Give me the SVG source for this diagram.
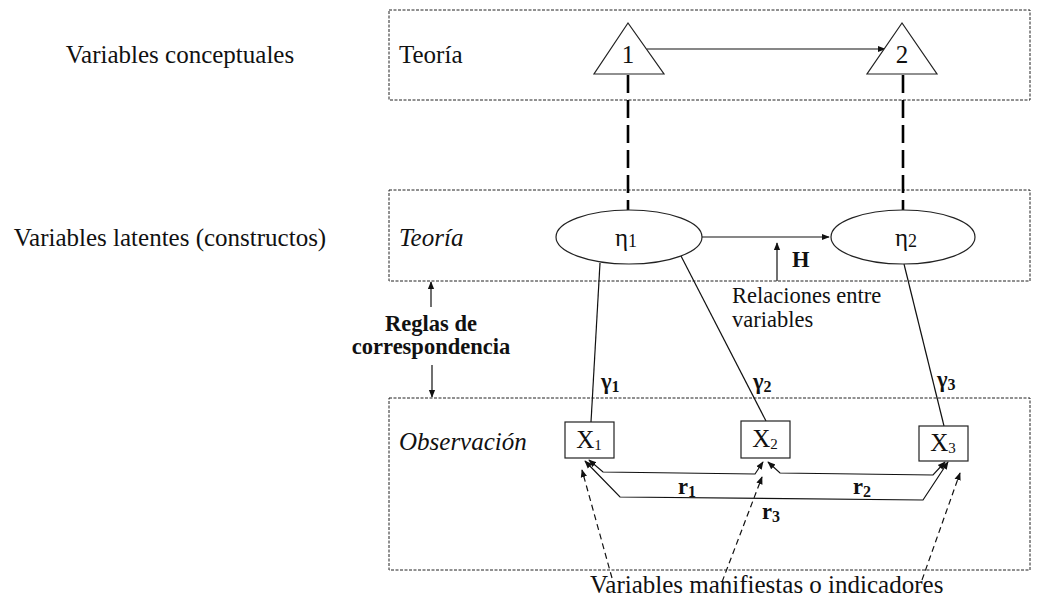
<svg xmlns="http://www.w3.org/2000/svg" width="1037" height="601" viewBox="0 0 1037 601">
  <style>
    text { font-family: "Liberation Serif", "Times New Roman", serif; fill: #111; }
    .lbl { font-size: 25px; }
    .it { font-style: italic; }
    .bd { font-weight: bold; }
    .sm { font-size: 22.5px; }
    .panel { fill: none; stroke: #222; stroke-width: 1; stroke-dasharray: 3 1.5; }
    .shape { fill: #fff; stroke: #222; stroke-width: 1.2; }
    .thin { fill: none; stroke: #111; stroke-width: 1.2; }
    .dual { fill: none; stroke: #111; stroke-width: 1.2; marker-start: url(#tip); marker-end: url(#tip); }
    .bond { fill: none; stroke: #000; stroke-width: 2.6; stroke-dasharray: 18 7; }
    .hint { fill: none; stroke: #111; stroke-width: 1.2; stroke-dasharray: 6 4; marker-end: url(#tip); }
  </style>
  <defs>
    <marker id="tip" viewBox="0 0 10 10" refX="9" refY="5" markerWidth="8" markerHeight="8" markerUnits="userSpaceOnUse" orient="auto-start-reverse">
      <path d="M0,1 L10,5 L0,9 Z" fill="#111"/>
    </marker>
  </defs>

  <!-- row captions -->
  <g id="captions">
    <text class="lbl" x="180" y="63" text-anchor="middle">Variables conceptuales</text>
    <text class="lbl" x="170" y="246" text-anchor="middle">Variables latentes (constructos)</text>
    <text class="sm bd" x="431" y="331" text-anchor="middle">Reglas de</text>
    <text class="sm bd" x="431" y="354" text-anchor="middle">correspondencia</text>
  </g>

  <!-- dashed panels -->
  <g id="panel-theory">
    <rect class="panel" x="389" y="10" width="641" height="90"/>
    <text class="lbl" x="399" y="63">Teoría</text>
  </g>
  <g id="panel-latent">
    <rect class="panel" x="389" y="190" width="641" height="91"/>
    <text class="lbl it" x="399" y="246">Teoría</text>
  </g>
  <g id="panel-observation">
    <rect class="panel" x="389" y="398" width="641" height="172"/>
    <text class="lbl it" x="399" y="450">Observación</text>
  </g>

  <!-- connectors -->
  <g id="connectors">
    <line class="bond" x1="628" y1="75" x2="628" y2="210"/>
    <line class="bond" x1="903" y1="75" x2="903" y2="210"/>
    <line class="thin" x1="647" y1="49" x2="885" y2="49" marker-end="url(#tip)"/>
    <line class="thin" x1="702" y1="237" x2="829" y2="237" marker-end="url(#tip)"/>
    <line class="thin" x1="777" y1="281" x2="777" y2="243" marker-end="url(#tip)"/>
    <line class="thin" x1="431" y1="307" x2="431" y2="282" marker-end="url(#tip)"/>
    <line class="thin" x1="432" y1="365" x2="432" y2="397" marker-end="url(#tip)"/>
    <line class="thin" x1="600" y1="263" x2="591" y2="422"/>
    <line class="thin" x1="681" y1="256" x2="766" y2="421"/>
    <line class="thin" x1="904" y1="264" x2="944" y2="426"/>
    <polyline class="dual" points="589,460 603,472 755,474 763,462"/>
    <polyline class="dual" points="768,462 780,473 933,475 945,462"/>
    <polyline class="dual" points="585,461 620,497 923,500 948,462"/>
    <line class="hint" x1="612" y1="578" x2="582" y2="470"/>
    <line class="hint" x1="722" y1="582" x2="762" y2="477"/>
    <line class="hint" x1="922" y1="580" x2="960" y2="473"/>
  </g>

  <!-- edge labels -->
  <g id="edge-labels">
    <text class="sm bd" x="792" y="267">H</text>
    <text class="sm" x="732" y="303">Relaciones entre</text>
    <text class="sm" x="732" y="327">variables</text>
    <text class="sm bd" x="601" y="389">γ<tspan font-size="16" dy="3">1</tspan></text>
    <text class="sm bd" x="753" y="389">γ<tspan font-size="16" dy="3">2</tspan></text>
    <text class="sm bd" x="937" y="387">γ<tspan font-size="16" dy="3">3</tspan></text>
    <text class="sm bd" x="678" y="494">r<tspan font-size="16" dy="3">1</tspan></text>
    <text class="sm bd" x="853" y="494">r<tspan font-size="16" dy="3">2</tspan></text>
    <text class="sm bd" x="762" y="519">r<tspan font-size="16" dy="3">3</tspan></text>
    <text class="lbl" x="590" y="593">Variables manifiestas o indicadores</text>
  </g>

  <!-- conceptual variables -->
  <g id="concept-1">
    <polygon class="shape" points="628,23 594,74 664,74"/>
    <text class="lbl" x="628" y="63" text-anchor="middle">1</text>
  </g>
  <g id="concept-2">
    <polygon class="shape" points="902,23 867,74 937,74"/>
    <text class="lbl" x="902" y="63" text-anchor="middle">2</text>
  </g>

  <!-- latent variables -->
  <g id="eta-1">
    <ellipse class="shape" cx="629" cy="237" rx="73" ry="27"/>
    <text class="lbl" x="626" y="246" text-anchor="middle">η<tspan font-size="18" dy="1">1</tspan></text>
  </g>
  <g id="eta-2">
    <ellipse class="shape" cx="903" cy="237" rx="72" ry="27"/>
    <text class="lbl" x="906" y="246" text-anchor="middle">η<tspan font-size="18" dy="1">2</tspan></text>
  </g>

  <!-- manifest variables -->
  <g id="x-1">
    <rect class="shape" x="565" y="422" width="49" height="36"/>
    <text class="lbl" x="589" y="448" text-anchor="middle">X<tspan font-size="15" dy="2">1</tspan></text>
  </g>
  <g id="x-2">
    <rect class="shape" x="741" y="421" width="49" height="37"/>
    <text class="lbl" x="765" y="447" text-anchor="middle">X<tspan font-size="15" dy="2">2</tspan></text>
  </g>
  <g id="x-3">
    <rect class="shape" x="919" y="426" width="49" height="35"/>
    <text class="lbl" x="943" y="451" text-anchor="middle">X<tspan font-size="15" dy="2">3</tspan></text>
  </g>
</svg>
